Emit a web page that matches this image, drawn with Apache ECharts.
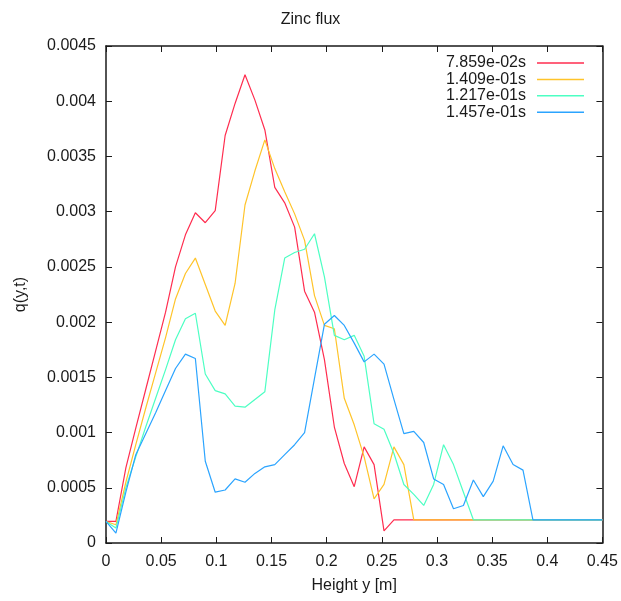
<!DOCTYPE html>
<html>
<head>
<meta charset="utf-8">
<script src="https://cdn.jsdelivr.net/npm/echarts@6/dist/echarts.min.js"></script>
<style>
  html, body { margin: 0; padding: 0; background: #fff; }
  #chart { width: 621px; height: 601px; }
</style>
</head>
<body>
<div id="chart"></div>
<script>
// Cell-centre heights along the column [m]
const heights = [
  0, 0.009, 0.018, 0.027, 0.036, 0.045, 0.054, 0.063, 0.072, 0.081,
  0.09, 0.099, 0.108, 0.117, 0.126, 0.135, 0.144, 0.153, 0.162, 0.171,
  0.18, 0.189, 0.198, 0.207, 0.216, 0.225, 0.234, 0.243, 0.252, 0.261,
  0.27, 0.279, 0.288, 0.297, 0.306, 0.315, 0.324, 0.333, 0.342, 0.351,
  0.36, 0.369, 0.378, 0.387, 0.396, 0.405, 0.414, 0.423, 0.432, 0.441,
  0.45
];

// Snapshot times shown in the legend
const times = ['7.859e-02s', '1.409e-01s', '1.217e-01s', '1.457e-01s'];

// Zinc flux q(y,t) at each height, one array per snapshot
const flux1 = [
  0.000195, 0.000195, 0.00068, 0.00104, 0.00139, 0.00174, 0.00209, 0.00250, 0.00279, 0.00299,
  0.00290, 0.00301, 0.00369, 0.00398, 0.00424, 0.00401, 0.00374, 0.00322, 0.00308, 0.00286,
  0.00228, 0.00209, 0.00166, 0.00105, 0.00072, 0.00051, 0.00087, 0.00071, 0.00011, 0.00021,
  0.00021, 0.00021, 0.00021, 0.00021, 0.00021, 0.00021, 0.00021, 0.00021, 0.00021, 0.00021,
  0.00021, 0.00021, 0.00021, 0.00021, 0.00021, 0.00021, 0.00021, 0.00021, 0.00021, 0.00021,
  0.00021
];
const flux2 = [
  0.000195, 0.000165, 0.00055, 0.00089, 0.00122, 0.00154, 0.00186, 0.00221, 0.00244, 0.00258,
  0.00234, 0.00210, 0.00197, 0.00235, 0.00306, 0.00337, 0.00365, 0.00339, 0.00318, 0.00298,
  0.00274, 0.00224, 0.00197, 0.00194, 0.00131, 0.00107, 0.00078, 0.00040, 0.00053, 0.00087,
  0.00071, 0.00021, 0.00021, 0.00021, 0.00021, 0.00021, 0.00021, 0.00021, 0.00021, 0.00021,
  0.00021, 0.00021, 0.00021, 0.00021, 0.00021, 0.00021, 0.00021, 0.00021, 0.00021, 0.00021,
  0.00021
];
const flux3 = [
  0.000195, 0.000135, 0.00050, 0.00078, 0.00105, 0.00131, 0.00157, 0.00184, 0.00203, 0.00208,
  0.00153, 0.00138, 0.00135, 0.00124, 0.00123, 0.00130, 0.00137, 0.00211, 0.00258, 0.00263,
  0.00266, 0.00280, 0.00241, 0.00188, 0.00184, 0.00188, 0.00169, 0.00108, 0.00103, 0.00081,
  0.00053, 0.00044, 0.00034, 0.00053, 0.00089, 0.00071, 0.00046, 0.00021, 0.00021, 0.00021,
  0.00021, 0.00021, 0.00021, 0.00021, 0.00021, 0.00021, 0.00021, 0.00021, 0.00021, 0.00021,
  0.00021
];
const flux4 = [
  0.000195, 0.00009, 0.00046, 0.00080, 0.00099, 0.00118, 0.00138, 0.00158, 0.00171, 0.00167,
  0.00074, 0.00046, 0.00048, 0.00058, 0.00055, 0.00063, 0.00069, 0.00071, 0.00080, 0.00089,
  0.00100, 0.00149, 0.00198, 0.00206, 0.00197, 0.00181, 0.00164, 0.00171, 0.00162, 0.00130,
  0.00099, 0.00101, 0.00091, 0.00058, 0.00053, 0.00031, 0.00034, 0.00057, 0.00042, 0.00056,
  0.00088, 0.00071, 0.00066, 0.00021, 0.00021, 0.00021, 0.00021, 0.00021, 0.00021, 0.00021,
  0.00021
];

const fluxes = [flux1, flux2, flux3, flux4];
const colors = ['#ff2d4f', '#ffc42a', '#4dffc3', '#2ba4ff'];

const FONT = '"Liberation Sans", Arial, Helvetica, sans-serif';
const INK = '#1a1a1a';

function tidy(v) {
  return String(parseFloat(Number(v).toPrecision(6)));
}

const chart = echarts.init(document.getElementById('chart'), null, { renderer: 'canvas' });

const baseAxis = {
  axisLine: { show: true, onZero: false, lineStyle: { color: INK, width: 1.5 } },
  axisTick: { show: true, inside: true, length: 6, lineStyle: { color: INK, width: 1 } },
  splitLine: { show: false }
};

chart.setOption({
  animation: false,
  backgroundColor: '#ffffff',
  textStyle: { fontFamily: FONT },
  title: {
    text: 'Zinc flux',
    left: 'center',
    top: 7,
    textStyle: { fontFamily: FONT, fontSize: 16, fontWeight: 'normal', color: INK }
  },
  legend: {
    orient: 'vertical',
    right: 32,
    top: 50,
    align: 'right',
    icon: 'rect',
    itemWidth: 47,
    itemHeight: 1.5,
    itemGap: 0.4,
    data: times,
    textStyle: { fontFamily: FONT, fontSize: 16, color: INK, padding: [0, 6, 0, 0] }
  },
  grid: { left: 106, right: 17, top: 46, bottom: 58, containLabel: false },
  xAxis: [
    Object.assign({}, baseAxis, {
      type: 'value',
      min: 0,
      max: 0.45,
      interval: 0.05,
      position: 'bottom',
      name: 'Height y [m]',
      nameLocation: 'middle',
      nameGap: 35,
      nameTextStyle: { fontFamily: FONT, fontSize: 16, color: INK },
      axisLabel: { margin: 11, fontFamily: FONT, fontSize: 16, color: INK, formatter: tidy }
    }),
    Object.assign({}, baseAxis, {
      type: 'value',
      min: 0,
      max: 0.45,
      interval: 0.05,
      position: 'top',
      axisLabel: { show: false }
    })
  ],
  yAxis: [
    Object.assign({}, baseAxis, {
      type: 'value',
      min: 0,
      max: 0.0045,
      interval: 0.0005,
      position: 'left',
      name: 'q(y,t)',
      nameLocation: 'middle',
      nameGap: 77,
      nameTextStyle: { fontFamily: FONT, fontSize: 16, color: INK },
      axisLabel: { margin: 10, fontFamily: FONT, fontSize: 16, color: INK, formatter: tidy }
    }),
    Object.assign({}, baseAxis, {
      type: 'value',
      min: 0,
      max: 0.0045,
      interval: 0.0005,
      position: 'right',
      axisLabel: { show: false }
    })
  ],
  series: times.map((t, i) => ({
    name: t,
    type: 'line',
    xAxisIndex: 0,
    yAxisIndex: 0,
    symbol: 'none',
    smooth: false,
    color: colors[i],
    lineStyle: { width: 1.2, color: colors[i] },
    data: heights.map((h, j) => [h, fluxes[i][j]])
  }))
});
</script>
</body>
</html>
